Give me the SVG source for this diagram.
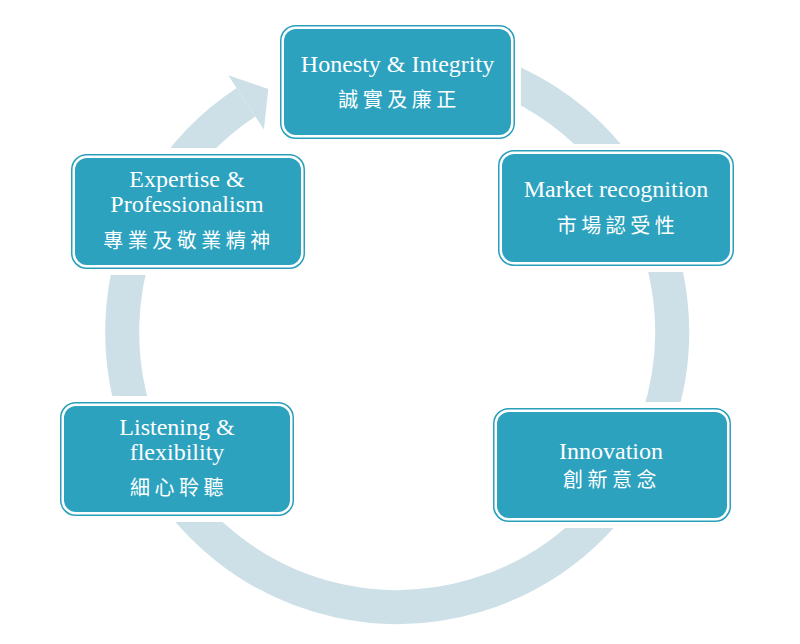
<svg xmlns="http://www.w3.org/2000/svg" width="800" height="644" viewBox="0 0 800 644">
<style>
.halo{fill:#ffffff}
.outer{fill:#ffffff;stroke:#2a9fbc;stroke-width:1.5}
.inner{fill:#2ca2bf}
.en{font-family:"Liberation Serif","Times New Roman",serif;font-size:24px;fill:#ffffff;text-anchor:middle}
.zh{font-family:"Liberation Serif","Noto Sans CJK TC",serif;font-size:20px;fill:#ffffff;text-anchor:middle;letter-spacing:4.5px}
.ring{fill:none;stroke:#cde0e8;stroke-width:34}
</style>
<rect width="800" height="644" fill="#ffffff"/>
<g id="connectors">
<path class="ring" d="M 397 57 A 275 275 0 1 1 246 102.3"/>
<polygon points="228.2,75.2 268.3,88.9 263.9,129.5" fill="#cde0e8"/>
</g>
<g id="honesty">
<rect class="halo" x="274" y="19" width="247" height="126" rx="21"/>
<rect class="outer" x="280.75" y="25.75" width="233.5" height="112.5" rx="15"/>
<rect class="inner" x="284" y="29" width="227" height="106" rx="12"/>
<text class="en" x="397.5" y="72">Honesty &amp; Integrity</text>
<text class="zh" x="399.5" y="107">誠實及廉正</text>
</g>
<g id="market">
<rect class="halo" x="492" y="144" width="248" height="128" rx="21"/>
<rect class="outer" x="498.75" y="150.75" width="234.5" height="114.5" rx="15"/>
<rect class="inner" x="502" y="154" width="228" height="108" rx="12"/>
<text class="en" x="616" y="197">Market recognition</text>
<text class="zh" x="618" y="233">市場認受性</text>
</g>
<g id="innovation">
<rect class="halo" x="487" y="402" width="250" height="126" rx="21"/>
<rect class="outer" x="493.75" y="408.75" width="236.5" height="112.5" rx="15"/>
<rect class="inner" x="497" y="412" width="230" height="106" rx="12"/>
<text class="en" x="611" y="459">Innovation</text>
<text class="zh" x="612" y="487">創新意念</text>
</g>
<g id="listening">
<rect class="halo" x="54" y="396" width="246" height="126" rx="21"/>
<rect class="outer" x="60.75" y="402.75" width="232.5" height="112.5" rx="15"/>
<rect class="inner" x="64" y="406" width="226" height="106" rx="12"/>
<text class="en" x="177" y="435">Listening &amp;</text>
<text class="en" x="177" y="460">flexibility</text>
<text class="zh" x="179" y="495">細心聆聽</text>
</g>
<g id="expertise">
<rect class="halo" x="65" y="148" width="246" height="127" rx="21"/>
<rect class="outer" x="71.75" y="154.75" width="232.5" height="113.5" rx="15"/>
<rect class="inner" x="75" y="158" width="226" height="107" rx="12"/>
<text class="en" x="187" y="187">Expertise &amp;</text>
<text class="en" x="187" y="212">Professionalism</text>
<text class="zh" x="189" y="248">專業及敬業精神</text>
</g>
</svg>
